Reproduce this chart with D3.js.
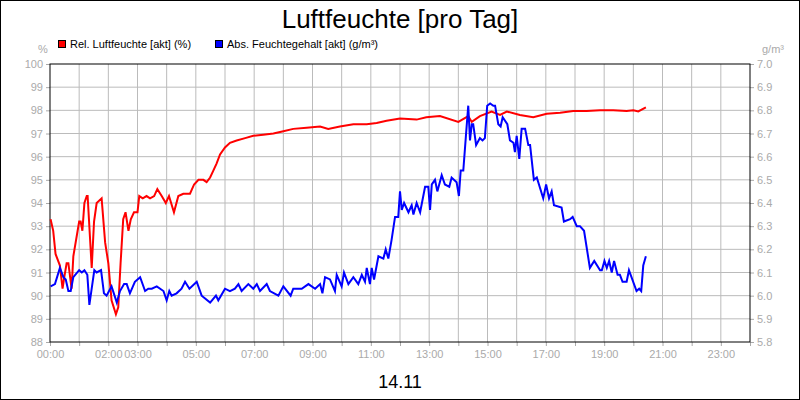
<!DOCTYPE html>
<html><head><meta charset="utf-8">
<script src="https://cdn.jsdelivr.net/npm/d3@7"></script>
<style>body{margin:0;background:#fff}svg{display:block}text{font-family:Arial,"Liberation Sans",sans-serif}</style>
</head><body><svg id="c" width="800" height="400"></svg>
<script>
const xTickHours=[0,2,3,5,7,9,11,13,15,17,19,21,23];
const leftTicks=d3.range(88,100.5,1);
const rightTicks=d3.range(5.8,7.05,0.1);
const relHours=[0.02,0.11,0.19,0.34,0.43,0.49,0.57,0.63,0.74,0.8,1.0,1.05,1.11,1.18,1.26,1.29,1.43,1.51,1.6,1.77,1.89,2.0,2.11,2.26,2.34,2.42,2.51,2.59,2.69,2.77,2.88,3.0,3.06,3.18,3.31,3.43,3.57,3.68,3.83,3.97,4.08,4.25,4.4,4.57,4.8,4.94,5.09,5.26,5.37,5.49,5.6,5.71,5.83,6.0,6.17,6.4,6.69,6.97,7.31,7.66,8.0,8.34,8.8,9.26,9.54,9.94,10.4,10.86,11.2,11.54,12.0,12.57,12.9,13.37,14.0,14.34,14.46,14.74,15.14,15.43,15.66,16.11,16.57,17.03,17.49,17.94,18.4,18.86,19.31,19.77,20.0,20.17,20.43];
const relValues=[93.3,92.8,91.8,91.3,90.3,90.8,91.4,91.4,90.3,91.7,93.2,93.2,92.8,94.0,94.3,94.3,91.2,93.2,94.0,94.2,92.3,91.4,89.8,89.2,89.5,91.4,93.3,93.6,92.8,93.3,93.6,93.6,94.3,94.2,94.3,94.2,94.3,94.6,94.3,94.0,94.3,93.6,94.3,94.4,94.4,94.8,95.0,95.0,94.9,95.1,95.4,95.7,96.1,96.4,96.6,96.7,96.8,96.9,96.95,97.0,97.1,97.2,97.25,97.3,97.2,97.3,97.4,97.4,97.45,97.55,97.65,97.6,97.7,97.75,97.5,97.75,97.5,97.75,97.95,97.8,97.95,97.8,97.7,97.85,97.9,97.97,97.97,98.0,98.0,97.97,98.0,97.95,98.13];
const absHours=[0.02,0.17,0.34,0.46,0.54,0.63,0.71,0.8,1.0,1.09,1.18,1.28,1.35,1.52,1.6,1.75,1.85,1.94,2.11,2.29,2.4,2.54,2.63,2.74,2.91,3.09,3.26,3.37,3.49,3.66,3.89,4.0,4.09,4.17,4.34,4.51,4.63,4.78,5.03,5.2,5.49,5.69,5.77,6.0,6.17,6.34,6.46,6.57,6.8,6.97,7.09,7.2,7.43,7.54,7.83,8.0,8.25,8.34,8.63,8.86,9.09,9.26,9.34,9.43,9.6,9.77,9.83,10.0,10.08,10.23,10.4,10.57,10.69,10.8,10.86,10.97,11.03,11.11,11.26,11.43,11.51,11.6,11.71,11.83,11.94,12.0,12.06,12.14,12.29,12.4,12.46,12.57,12.69,12.86,12.97,13.03,13.09,13.2,13.28,13.43,13.54,13.69,13.77,13.94,14.02,14.08,14.17,14.26,14.34,14.4,14.46,14.51,14.61,14.74,14.83,14.91,14.99,15.09,15.2,15.26,15.37,15.45,15.52,15.68,15.77,15.89,15.94,16.0,16.09,16.17,16.29,16.4,16.46,16.59,16.69,16.91,17.01,17.11,17.2,17.28,17.54,17.62,17.83,17.92,18.06,18.17,18.31,18.51,18.66,18.86,18.92,19.01,19.09,19.17,19.26,19.34,19.46,19.54,19.63,19.77,19.85,20.11,20.2,20.27,20.34,20.43];
const absValues=[6.04,6.05,6.12,6.08,6.07,6.02,6.02,6.08,6.11,6.10,6.11,6.09,5.96,6.11,6.10,6.11,6.01,6.00,6.04,5.97,6.02,6.05,6.05,6.01,6.06,6.08,6.02,6.03,6.03,6.04,6.02,5.98,6.02,6.00,6.01,6.03,6.06,6.03,6.06,6.00,5.97,6.00,5.98,6.03,6.02,6.03,6.05,6.02,6.05,6.03,6.05,6.02,6.05,6.02,6.00,6.04,6.00,6.03,6.03,6.05,6.03,6.05,6.01,6.08,6.07,6.02,6.09,6.04,6.10,6.05,6.08,6.05,6.09,6.06,6.12,6.05,6.12,6.07,6.17,6.16,6.20,6.16,6.24,6.34,6.34,6.45,6.37,6.40,6.36,6.39,6.35,6.40,6.36,6.47,6.47,6.37,6.48,6.50,6.45,6.52,6.48,6.47,6.51,6.49,6.43,6.54,6.54,6.69,6.82,6.67,6.74,6.74,6.65,6.68,6.67,6.68,6.82,6.83,6.82,6.82,6.74,6.73,6.77,6.74,6.67,6.66,6.62,6.69,6.59,6.72,6.72,6.65,6.65,6.50,6.51,6.42,6.48,6.42,6.45,6.39,6.38,6.32,6.33,6.34,6.30,6.30,6.28,6.12,6.15,6.11,6.11,6.15,6.12,6.15,6.10,6.15,6.09,6.09,6.06,6.06,6.11,6.02,6.03,6.02,6.13,6.17];

const svg=d3.select("#c");
const L=50,R=750,T=64,B=342;
const x=d3.scaleLinear().domain([0,24]).range([L,R]);
const yl=d3.scaleLinear().domain([88,100]).range([B,T]);
const yr=d3.scaleLinear().domain([5.8,7.0]).range([B,T]);
svg.append("rect").attr("x",0.5).attr("y",0.5).attr("width",799).attr("height",399).attr("fill","#fff").attr("stroke","#000");
const g=svg.append("g");
g.selectAll(".vg").data(d3.range(1,24)).join("line").attr("x1",d=>x(d)).attr("x2",d=>x(d)).attr("y1",T).attr("y2",B).attr("stroke","#bbb");
g.selectAll(".hg").data(leftTicks.slice(1,-1)).join("line").attr("x1",L).attr("x2",R).attr("y1",d=>yl(d)).attr("y2",d=>yl(d)).attr("stroke","#bbb");
const gray="#aaa";
function style(a){a.select(".domain").remove();a.selectAll("line").attr("stroke",gray);a.selectAll("text").attr("fill",gray).style("font-size","11px");}
svg.append("g").attr("transform",`translate(${L},0)`).call(d3.axisLeft(yl).tickValues(leftTicks).tickSize(4).tickPadding(3).tickFormat(d3.format("d"))).call(style);
svg.append("g").attr("transform",`translate(${R},0)`).call(d3.axisRight(yr).tickValues(rightTicks).tickSize(4).tickPadding(3).tickFormat(d3.format(".1f"))).call(style);
svg.append("g").attr("transform",`translate(0,${B})`).call(d3.axisBottom(x).tickValues(d3.range(0,25)).tickSize(4).tickPadding(4).tickFormat(d=>xTickHours.includes(d)?String(d).padStart(2,"0")+":00":"")).call(style);
svg.append("rect").attr("x",L).attr("y",T).attr("width",R-L).attr("height",B-T).attr("fill","none").attr("stroke","#000");
const lr=d3.line().x((d,i)=>x(relHours[i])).y(d=>yl(d));
const la=d3.line().x((d,i)=>x(absHours[i])).y(d=>yr(d));
svg.append("path").attr("d",lr(relValues)).attr("fill","none").attr("stroke","#f00").attr("stroke-width",2);
svg.append("path").attr("d",la(absValues)).attr("fill","none").attr("stroke","#00f").attr("stroke-width",2);
svg.append("text").attr("x",400).attr("y",28).attr("text-anchor","middle").style("font-size","26px").text("Luftfeuchte [pro Tag]");
svg.append("text").attr("x",400).attr("y",388).attr("text-anchor","middle").style("font-size","18px").text("14.11");
svg.append("text").attr("x",43).attr("y",53).attr("text-anchor","middle").attr("fill",gray).style("font-size","11px").text("%");
svg.append("text").attr("x",773).attr("y",53).attr("text-anchor","middle").attr("fill",gray).style("font-size","11px").text("g/m³");
const leg=[{c:"#f00",t:"Rel. Luftfeuchte [akt] (%)",x:58},{c:"#00f",t:"Abs. Feuchtegehalt [akt] (g/m³)",x:215}];
leg.forEach(l=>{svg.append("rect").attr("x",l.x+0.5).attr("y",40.5).attr("width",7).attr("height",7).attr("fill",l.c).attr("stroke","#000");
svg.append("text").attr("x",l.x+12).attr("y",48).style("font-size","11px").text(l.t);});
</script></body></html>
